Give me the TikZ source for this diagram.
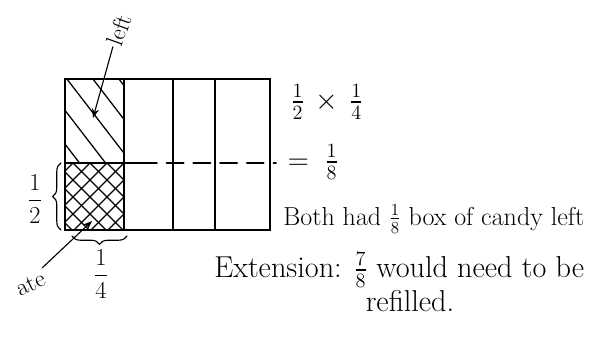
\documentclass[tikz,border=0pt]{standalone}
\usepackage{amsmath}
\usetikzlibrary{arrows.meta,decorations.pathreplacing}
\begin{document}
\begin{tikzpicture}[x=0.025cm, y=-0.025cm, >=Stealth, line width=1.4pt, line cap=round,
    hatch/.style={line width=0.9pt},
    lbl/.style={font=\LARGE, inner sep=1pt}]
    \useasboundingbox (0,0) rectangle (592,354);

    % 糖果盒外框
    \draw (65,79) rectangle (270,230);

    % 四等分竖线
    \foreach \x in {124,173,215} {
        \draw (\x,79) -- (\x,230);
    }

    % 二等分线 (实线 + 虚线)
    \draw (65,163) -- (140,163);
    \draw[dash pattern=on 12pt off 7pt] (140,163) -- (276,163);

    % 剩下的部分 (单向斜线)
    \begin{scope}
        \clip (65,79) rectangle (124,163);
        \foreach \x in {-70,-44,...,130} {
            \draw[hatch] (\x,70) -- ++(80,104);
        }
    \end{scope}

    % 吃掉的部分 (交叉线)
    \begin{scope}
        \clip (65,163) rectangle (124,230);
        \foreach \x in {-80,-63,...,220} {
            \draw[hatch] (\x,163) -- ++(-80,80);
            \draw[hatch] (\x,163) -- ++(80,80);
        }
    \end{scope}

    % 大括号
    \draw[thick, decorate, decoration={brace, amplitude=6pt}] (61,230) -- (61,163);
    \draw[thick, decorate, decoration={brace, amplitude=6pt}] (127,236) -- (72,236);

    % 分数标注
    \node[lbl] (half) at (35,199) {$\dfrac{1}{2}$};
    \node[lbl] (quarter) at (101,274) {$\dfrac{1}{4}$};

    % 文字标注及箭头
    \node[lbl, rotate=70] (leftlbl) at (119,30) {left};
    \coordinate (lefttip) at (93,118);
    \draw[thick, ->] (leftlbl.west) -- (lefttip);

    \node[lbl, rotate=25] (atelbl) at (31,284) {ate};
    \coordinate (atetip) at (92,221);
    \draw[thick, ->] (atelbl.north east) -- (atetip);

    % 右侧算式与说明
    \node[lbl, font=\fontsize{22}{26}\selectfont] (prod) at (327,102) {$\frac{1}{2}\,\times\,\frac{1}{4}$};
    \node[lbl, font=\fontsize{22}{26}\selectfont] (eq) at (313,162) {$=\;\frac{1}{8}$};
    \node[lbl, anchor=west, font=\fontsize{18.5}{22}\selectfont] (both) at (281,219) {Both had $\frac{1}{8}$ box of candy left};
    \node[lbl, anchor=west, font=\fontsize{21.5}{26}\selectfont] (ext) at (212,270) {Extension: $\frac{7}{8}$ would need to be};
    \node[lbl, font=\fontsize{21.5}{26}\selectfont] (refill) at (410,301) {refilled.};
\end{tikzpicture}
\end{document}
